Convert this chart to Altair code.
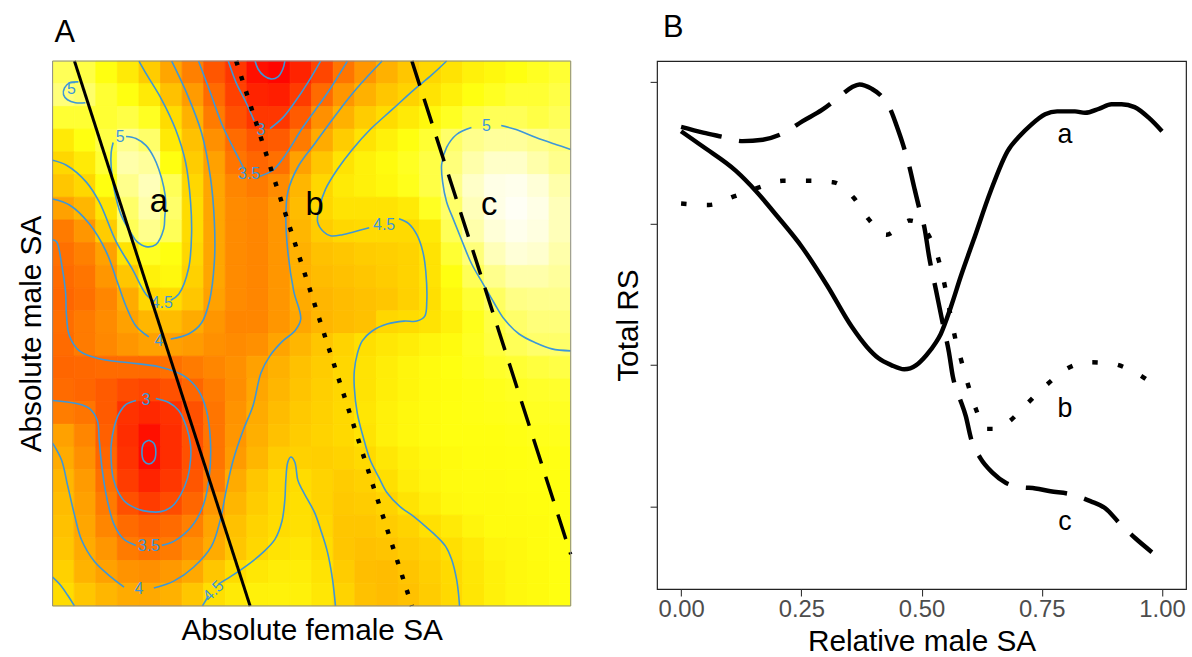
import altair as alt
import pandas as pd

FONT = "Liberation Sans"

# ======================= Panel A: fitness landscape =======================
female_extent = 522.0   # width of trait space (arbitrary units)
male_extent = 549.0     # height of trait space (arbitrary units)

# fitness (total RS) read on a 24 x 24 grid, top row first, left column first
fitness_rows = [
    [4.95, 4.9, 4.75, 4.6, 4.35, 4.0, 3.65, 3.25, 2.95, 2.55, 2.45, 2.75, 3.1, 3.55, 3.85, 4.1, 4.3, 4.45, 4.55, 4.65, 4.7, 4.75, 4.8, 4.85],
    [5.05, 5.0, 4.85, 4.75, 4.6, 4.25, 3.9, 3.45, 3.05, 2.75, 2.7, 3.0, 3.45, 3.85, 4.1, 4.3, 4.42, 4.55, 4.65, 4.75, 4.8, 4.85, 4.85, 4.9],
    [4.85, 4.85, 4.85, 4.9, 4.8, 4.5, 4.1, 3.6, 3.2, 2.95, 2.95, 3.3, 3.8, 4.1, 4.35, 4.5, 4.6, 4.7, 4.8, 4.9, 4.95, 4.95, 4.9, 4.95],
    [4.6, 4.75, 4.9, 5.1, 5.0, 4.6, 4.25, 3.8, 3.45, 3.25, 3.3, 3.6, 4.05, 4.35, 4.55, 4.65, 4.75, 4.85, 5.0, 5.1, 5.15, 5.15, 5.1, 5.05],
    [4.45, 4.6, 4.85, 5.2, 5.15, 4.75, 4.35, 3.95, 3.55, 3.4, 3.5, 3.95, 4.3, 4.55, 4.65, 4.72, 4.8, 4.9, 5.05, 5.2, 5.3, 5.3, 5.2, 5.1],
    [4.3, 4.45, 4.75, 5.1, 5.25, 4.95, 4.45, 4.0, 3.7, 3.6, 3.75, 4.15, 4.45, 4.6, 4.65, 4.7, 4.78, 4.9, 5.1, 5.3, 5.4, 5.42, 5.35, 5.2],
    [3.95, 4.15, 4.55, 5.0, 5.2, 5.0, 4.5, 4.0, 3.75, 3.7, 3.85, 4.2, 4.45, 4.55, 4.55, 4.55, 4.6, 4.8, 5.0, 5.25, 5.4, 5.45, 5.4, 5.25],
    [3.6, 3.85, 4.35, 4.95, 5.1, 4.95, 4.5, 4.0, 3.75, 3.7, 3.85, 4.15, 4.35, 4.45, 4.48, 4.48, 4.48, 4.6, 4.95, 5.2, 5.35, 5.42, 5.38, 5.25],
    [3.5, 3.65, 3.95, 4.55, 4.8, 4.75, 4.45, 4.0, 3.75, 3.7, 3.85, 4.1, 4.25, 4.3, 4.35, 4.38, 4.42, 4.55, 4.85, 5.05, 5.25, 5.35, 5.32, 5.2],
    [3.45, 3.55, 3.85, 4.3, 4.65, 4.7, 4.4, 4.0, 3.75, 3.7, 3.85, 4.1, 4.2, 4.25, 4.3, 4.35, 4.42, 4.55, 4.75, 4.95, 5.1, 5.2, 5.2, 5.15],
    [3.4, 3.5, 3.7, 4.05, 4.45, 4.5, 4.3, 3.95, 3.75, 3.7, 3.85, 4.05, 4.15, 4.2, 4.25, 4.3, 4.4, 4.52, 4.7, 4.85, 4.98, 5.08, 5.1, 5.1],
    [3.48, 3.6, 3.75, 3.95, 4.15, 4.2, 4.05, 3.85, 3.7, 3.7, 3.85, 4.0, 4.15, 4.2, 4.25, 4.45, 4.5, 4.55, 4.65, 4.78, 4.9, 5.0, 5.05, 5.05],
    [3.45, 3.6, 3.72, 3.85, 3.95, 3.95, 3.9, 3.8, 3.75, 3.8, 3.98, 4.15, 4.3, 4.42, 4.52, 4.58, 4.62, 4.68, 4.72, 4.8, 4.88, 4.95, 5.0, 5.0],
    [3.4, 3.42, 3.45, 3.45, 3.45, 3.5, 3.6, 3.7, 3.8, 3.95, 4.1, 4.25, 4.35, 4.45, 4.55, 4.62, 4.68, 4.72, 4.75, 4.78, 4.82, 4.85, 4.88, 4.9],
    [3.45, 3.4, 3.3, 3.15, 3.1, 3.2, 3.4, 3.6, 3.78, 4.0, 4.15, 4.28, 4.38, 4.45, 4.55, 4.63, 4.68, 4.72, 4.74, 4.76, 4.78, 4.8, 4.82, 4.83],
    [3.62, 3.55, 3.3, 2.9, 2.8, 2.9, 3.2, 3.55, 3.82, 4.05, 4.2, 4.32, 4.4, 4.47, 4.57, 4.65, 4.7, 4.73, 4.75, 4.76, 4.77, 4.78, 4.8, 4.8],
    [3.95, 3.7, 3.35, 2.85, 2.55, 2.85, 3.2, 3.55, 3.85, 4.08, 4.25, 4.35, 4.42, 4.47, 4.55, 4.65, 4.7, 4.73, 4.75, 4.75, 4.75, 4.76, 4.78, 4.78],
    [4.05, 3.8, 3.4, 2.9, 2.5, 2.85, 3.2, 3.55, 3.9, 4.15, 4.35, 4.4, 4.38, 4.42, 4.48, 4.58, 4.65, 4.7, 4.72, 4.74, 4.74, 4.75, 4.76, 4.76],
    [4.15, 3.9, 3.5, 3.0, 2.75, 2.95, 3.25, 3.6, 4.05, 4.3, 4.45, 4.5, 4.42, 4.35, 4.4, 4.52, 4.62, 4.68, 4.72, 4.73, 4.73, 4.74, 4.75, 4.75],
    [4.2, 3.95, 3.6, 3.2, 3.0, 3.15, 3.4, 3.85, 4.15, 4.35, 4.48, 4.52, 4.42, 4.32, 4.35, 4.42, 4.55, 4.63, 4.7, 4.72, 4.72, 4.73, 4.74, 4.75],
    [4.25, 4.0, 3.7, 3.45, 3.35, 3.45, 3.65, 3.98, 4.25, 4.42, 4.5, 4.53, 4.45, 4.3, 4.3, 4.35, 4.42, 4.53, 4.6, 4.68, 4.72, 4.72, 4.73, 4.75],
    [4.3, 4.05, 3.85, 3.6, 3.52, 3.6, 3.8, 4.05, 4.3, 4.45, 4.55, 4.58, 4.5, 4.3, 4.25, 4.28, 4.35, 4.42, 4.52, 4.6, 4.68, 4.7, 4.73, 4.75],
    [4.4, 4.12, 3.95, 3.82, 3.8, 3.88, 4.02, 4.3, 4.5, 4.58, 4.62, 4.62, 4.55, 4.35, 4.22, 4.2, 4.28, 4.38, 4.48, 4.58, 4.65, 4.7, 4.72, 4.75],
    [4.5, 4.3, 4.15, 4.05, 4.03, 4.1, 4.3, 4.52, 4.6, 4.65, 4.66, 4.65, 4.58, 4.42, 4.25, 4.2, 4.25, 4.35, 4.47, 4.57, 4.65, 4.7, 4.72, 4.75],
]

heat_stops = [2.4, 3.0, 3.5, 4.0, 4.5, 4.75, 5.1, 5.45]
heat_colors = ["#ff0000", "#ff3c00", "#ff7000", "#ffa600", "#ffdc00", "#ffff10", "#ffff8c", "#fffff5"]

contour_color = "#3d97d8"

# contour lines (x = female SA, y = male SA), split where the labels sit
contour_paths = {
    "c5_a": [(74, 473), (84, 471), (94, 464), (102, 452), (107, 440), (112, 422), (114, 407), (113, 392), (112, 380), (104, 364), (94, 362), (85, 367), (80, 374), (69, 394), (62, 420), (59, 442), (59, 457), (61, 467)],
    "c5_corner": [(26, 528), (17, 527), (12, 522), (11, 515), (15, 510), (23, 507), (33, 507)],
    "c45_a1": [(0, 449), (14, 444), (34, 427), (47, 407), (64, 367), (80, 340), (94, 314), (102, 307)],
    "c45_a2": [(119, 308), (127, 314), (137, 340), (140, 374), (139, 407), (134, 447), (124, 480), (110, 510), (95, 535), (87, 549)],
    "c4_a1": [(0, 410), (17, 404), (37, 385), (54, 357), (65, 327), (74, 302), (84, 282), (97, 271)],
    "c4_a2": [(119, 269), (137, 274), (150, 285), (158, 307), (163, 347), (163, 387), (159, 432), (150, 477), (135, 517), (120, 549)],
    "c4_big1": [(332, 549), (307, 522), (287, 497), (265, 467), (247, 442), (237, 417), (235, 392), (237, 357), (243, 317), (250, 289), (244, 277), (232, 267), (219, 252), (210, 235), (202, 202), (192, 177), (182, 147), (175, 117), (169, 87), (160, 60), (142, 39), (122, 25), (102, 18)],
    "c4_big2": [(72, 19), (59, 29), (42, 45), (29, 67), (22, 92), (15, 122), (9, 147), (0, 164)],
    "c35_top1": [(147, 549), (159, 517), (172, 482), (187, 452), (193, 440)],
    "c35_top2": [(209, 433), (222, 439), (235, 455), (252, 482), (277, 517), (297, 549)],
    "c3_top1": [(177, 549), (185, 527), (195, 507), (203, 489)],
    "c3_top2": [(219, 481), (232, 492), (245, 509), (257, 527), (270, 549)],
    "c25_top": [(204, 549), (207, 541), (213, 534), (220, 531), (227, 533), (232, 541), (234, 549)],
    "c3_low": [(104, 209), (117, 205), (127, 197), (135, 180), (139, 162), (139, 147), (136, 129), (129, 112), (120, 100), (109, 95), (97, 95), (85, 98), (74, 104), (66, 115), (61, 129), (59, 147), (59, 162), (62, 180), (67, 194), (74, 203), (84, 207)],
    "c25_low": [(97, 167), (102, 164), (104, 155), (102, 146), (97, 143), (92, 146), (90, 155), (92, 164), (97, 167)],
    "c35_low1": [(0, 369), (4, 367), (9, 345), (13, 317), (14, 292), (17, 272), (27, 257), (47, 249), (77, 245), (107, 241), (132, 232), (147, 217), (155, 197), (159, 167), (158, 132), (152, 102), (140, 80), (122, 65), (110, 61)],
    "c35_low2": [(84, 61), (72, 67), (62, 82), (55, 107), (50, 137), (47, 167), (45, 187), (37, 199), (24, 204), (0, 207)],
    "c45_b1": [(397, 549), (382, 535), (364, 520), (342, 500), (320, 480), (302, 460), (287, 440), (275, 420), (269, 402), (267, 387), (273, 377), (280, 373), (292, 374), (304, 377), (319, 381)],
    "c45_b2": [(349, 390), (359, 385), (367, 374), (373, 357), (376, 337), (377, 307), (375, 292), (367, 287), (354, 287), (337, 284), (322, 277), (312, 267), (307, 254), (304, 237), (304, 220), (307, 194), (313, 170), (320, 147), (329, 129), (337, 114), (350, 100), (364, 90), (377, 79), (387, 70), (396, 60), (402, 47), (407, 27), (409, 12), (410, 0)],
    "c45_spike1": [(151, 0), (157, 10)],
    "c45_spike2": [(167, 22), (180, 30), (200, 44), (212, 54), (224, 67), (231, 85), (234, 107), (235, 127), (237, 145), (240, 150), (244, 145), (247, 127), (250, 120), (257, 107), (264, 94), (270, 77), (277, 54), (282, 27), (285, 0)],
    "c45_corner": [(0, 29), (7, 22), (15, 11), (22, 0)],
    "c5_c1": [(522, 460), (507, 465), (487, 472), (467, 480), (452, 484)],
    "c5_c2": [(422, 482), (407, 475), (397, 462), (392, 445), (393, 427), (397, 407), (404, 389), (412, 369), (422, 345), (434, 324), (445, 305), (455, 289), (470, 274), (487, 265), (503, 259), (522, 257)],
}

clabel_text = ["5", "5", "4.5", "4", "3.5", "3", "4.5", "5", "3", "3.5", "4", "4.5"]
clabel_x = [19, 68, 110, 107, 198, 210, 334, 437, 94, 97, 87, 162]
clabel_y = [521, 472, 305, 267, 435, 479, 384, 484, 207, 60, 17, 15]
clabel_angle = [0, 0, 0, 0, 0, 0, 0, 0, 0, 0, 0, 315]

# the three transects a (solid), b (dotted), c (dashed)
transect_a_x, transect_a_y = [22, 199], [549, 0]
transect_b_x, transect_b_y = [185, 362], [549, 0]
transect_c_x, transect_c_y = [362, 522], [549, 52]

letter_text = ["a", "b", "c"]
letter_x = [107, 264, 440]
letter_y = [407, 404, 404]

# ======================= Panel B: RS along transects =======================
a_x = [0.0, 0.046, 0.114, 0.155, 0.200, 0.252, 0.304, 0.355, 0.386, 0.410, 0.437, 0.464, 0.489, 0.510, 0.530, 0.540, 0.561, 0.582, 0.608, 0.644, 0.679, 0.705, 0.726, 0.757, 0.782, 0.819, 0.840, 0.870, 0.895, 0.916, 0.943, 0.974, 1.0]
a_y = [3.65, 3.54, 3.37, 3.23, 3.05, 2.83, 2.56, 2.27, 2.13, 2.05, 2.00, 1.97, 2.00, 2.07, 2.16, 2.22, 2.41, 2.63, 2.88, 3.23, 3.51, 3.62, 3.69, 3.77, 3.79, 3.79, 3.78, 3.81, 3.84, 3.84, 3.82, 3.74, 3.65]

b_x = [0.0, 0.058, 0.110, 0.159, 0.211, 0.264, 0.316, 0.359, 0.390, 0.427, 0.452, 0.475, 0.495, 0.514, 0.534, 0.549, 0.561, 0.572, 0.582, 0.596, 0.613, 0.633, 0.654, 0.681, 0.720, 0.760, 0.800, 0.846, 0.896, 0.943, 0.984]
b_y = [3.14, 3.13, 3.19, 3.25, 3.30, 3.30, 3.29, 3.18, 3.03, 2.92, 2.97, 3.02, 3.00, 2.92, 2.76, 2.55, 2.34, 2.16, 2.04, 1.87, 1.69, 1.55, 1.55, 1.60, 1.73, 1.86, 1.97, 2.02, 2.01, 1.95, 1.86]

c_x = [0.0, 0.046, 0.087, 0.128, 0.170, 0.215, 0.252, 0.293, 0.328, 0.355, 0.371, 0.396, 0.421, 0.437, 0.448, 0.462, 0.474, 0.485, 0.495, 0.506, 0.516, 0.530, 0.545, 0.557, 0.565, 0.578, 0.592, 0.603, 0.623, 0.648, 0.675, 0.706, 0.737, 0.768, 0.809, 0.851, 0.882, 0.913, 0.944, 0.979]
c_y = [3.68, 3.64, 3.61, 3.58, 3.59, 3.64, 3.72, 3.80, 3.89, 3.96, 3.98, 3.95, 3.88, 3.79, 3.69, 3.55, 3.41, 3.25, 3.11, 2.97, 2.76, 2.53, 2.28, 2.09, 1.92, 1.78, 1.64, 1.48, 1.34, 1.24, 1.17, 1.14, 1.13, 1.11, 1.09, 1.04, 0.99, 0.88, 0.78, 0.68]

rs_ticks = [1, 2, 3, 4]
sa_ticks = [0.0, 0.25, 0.5, 0.75, 1.0]
curve_label_text = ["a", "b", "c"]
curve_label_x = [0.798, 0.798, 0.798]
curve_label_y = [3.62, 1.69, 0.89]

# ----------------------------- build tables -----------------------------
n_rows, n_cols = len(fitness_rows), len(fitness_rows[0])
cw, ch = female_extent / n_cols, male_extent / n_rows
heat_records = []
for j, row in enumerate(fitness_rows):
    for i, v in enumerate(row):
        heat_records.append({"x0": i * cw, "x1": (i + 1) * cw,
                             "y0": male_extent - (j + 1) * ch, "y1": male_extent - j * ch, "v": v})
heat_df = pd.DataFrame(heat_records)

cont_records = []
for name, pts in contour_paths.items():
    for k, (x, y) in enumerate(pts):
        cont_records.append({"path": name, "ord": k, "x": x, "y": y})
cont_df = pd.DataFrame(cont_records)

clabel_df = pd.DataFrame({"t": clabel_text, "x": clabel_x, "y": clabel_y, "ang": clabel_angle})
letters_df = pd.DataFrame({"t": letter_text, "x": letter_x, "y": letter_y})

TITLE_SIZE = 30

xsA = alt.Scale(domain=[0, female_extent], nice=False, zero=False)
ysA = alt.Scale(domain=[0, male_extent], nice=False, zero=False)
axA_x = alt.Axis(title="Absolute female SA", labels=False, ticks=False, domain=False, grid=False,
                 titleFont=FONT, titleFontSize=TITLE_SIZE, titleFontWeight="normal", titleColor="black", titlePadding=10)
axA_y = alt.Axis(title="Absolute male SA", labels=False, ticks=False, domain=False, grid=False,
                 titleFont=FONT, titleFontSize=TITLE_SIZE, titleFontWeight="normal", titleColor="black", titlePadding=6)


def XA(f):
    return alt.X(f, type="quantitative", scale=xsA, axis=axA_x)


def YA(f):
    return alt.Y(f, type="quantitative", scale=ysA, axis=axA_y)


heat_scale = alt.Scale(domain=heat_stops, range=heat_colors, interpolate="rgb")
heat = alt.Chart(heat_df).mark_rect(strokeWidth=0.8).encode(
    x=XA("x0"), x2="x1", y=YA("y0"), y2="y1",
    color=alt.Color("v:Q", scale=heat_scale, legend=None),
    stroke=alt.Stroke("v:Q", scale=heat_scale, legend=None),
)

contours = alt.Chart(cont_df).mark_line(color=contour_color, strokeWidth=1.6, interpolate="catmull-rom").encode(
    x=XA("x"), y=YA("y"), detail="path:N", order="ord:Q")

clabels = alt.Chart(clabel_df).mark_text(color=contour_color, font=FONT, fontSize=16, baseline="middle").encode(
    x=XA("x"), y=YA("y"), text="t:N", angle=alt.Angle("ang:Q", scale=None))


def transect(xs, ys, dash, width):
    df = pd.DataFrame({"x": xs, "y": ys})
    kw = dict(color="black", strokeWidth=width, strokeCap="butt")
    if dash:
        kw["strokeDash"] = dash
    return alt.Chart(df).mark_line(**kw).encode(x=XA("x"), y=YA("y"))


tr_a = transect(transect_a_x, transect_a_y, None, 3)
tr_b = transect(transect_b_x, transect_b_y, [4.5, 11.5], 4.5)
tr_c = transect(transect_c_x, transect_c_y, [26, 14], 3.5)

letters = alt.Chart(letters_df).mark_text(font=FONT, fontSize=33, color="black", baseline="middle").encode(
    x=XA("x"), y=YA("y"), text="t:N")

frameA = alt.Chart(pd.DataFrame({"k": [0]})).mark_rect(filled=False, stroke="#8a8a8a", strokeWidth=1).encode(
    x=alt.value(0), x2=alt.value(female_extent), y=alt.value(0), y2=alt.value(male_extent))

tagA = alt.Chart(pd.DataFrame({"t": ["A"]})).mark_text(font=FONT, fontSize=31, align="left", baseline="middle").encode(
    x=alt.value(2), y=alt.value(-28), text="t:N")
spacerA = alt.Chart(pd.DataFrame({"t": ["A"]})).mark_text(font=FONT, fontSize=31, align="left", baseline="middle", opacity=0).encode(
    x=alt.value(2), y=alt.value(-39), text="t:N")

panelA = alt.layer(heat, contours, clabels, tr_a, tr_b, tr_c, letters, frameA, tagA, spacerA).properties(
    width=522, height=549, view=alt.ViewBackground(stroke="transparent"))

# ----------------------------- panel B -----------------------------
xsB = alt.Scale(domain=[-0.05, 1.05], nice=False, zero=False)
ysB = alt.Scale(domain=[0.42, 4.145], nice=False, zero=False)
axB_x = alt.Axis(title="Relative male SA", values=sa_ticks, format=".2f", grid=False, domain=False,
                 tickColor="#333333", tickSize=7, tickWidth=1.1, labelColor="#4d4d4d", labelFont=FONT,
                 labelFontSize=24, labelPadding=2, titleFont=FONT, titleFontSize=TITLE_SIZE, titleFontWeight="normal",
                 titleColor="black", titlePadding=5)
axB_y = alt.Axis(title="Total RS", values=rs_ticks, labels=False, grid=False, domain=False,
                 tickColor="#333333", tickSize=7, tickWidth=1.1, titleFont=FONT, titleFontSize=TITLE_SIZE,
                 titleFontWeight="normal", titleColor="black", titlePadding=6)


def XB(f):
    return alt.X(f, type="quantitative", scale=xsB, axis=axB_x)


def YB(f):
    return alt.Y(f, type="quantitative", scale=ysB, axis=axB_y)


def curve(xs, ys, dash):
    df = pd.DataFrame({"x": xs, "y": ys})
    kw = dict(color="black", strokeWidth=4.5, strokeCap="butt", interpolate="monotone")
    if dash:
        kw["strokeDash"] = dash
    return alt.Chart(df).mark_line(**kw).encode(x=XB("x"), y=YB("y"))


cur_a = curve(a_x, a_y, None)
cur_b = curve(b_x, b_y, [5.5, 20.5])
cur_c = curve(c_x, c_y, [42, 18])

curve_labels = alt.Chart(pd.DataFrame({"t": curve_label_text, "x": curve_label_x, "y": curve_label_y})).mark_text(
    font=FONT, fontSize=27, color="black", baseline="middle").encode(x=XB("x"), y=YB("y"), text="t:N")

tagB = alt.Chart(pd.DataFrame({"t": ["B"]})).mark_text(font=FONT, fontSize=31, align="left", baseline="middle").encode(
    x=alt.value(6), y=alt.value(-33), text="t:N")

panelB = alt.layer(cur_a, cur_b, cur_c, curve_labels, tagB).properties(
    width=533, height=532, view=alt.ViewBackground(stroke="#222222", strokeWidth=1.2))

chart = alt.hconcat(panelA, panelB, spacing=34).properties(
    padding={"left": 16, "top": 3, "right": 5, "bottom": 5}, background="white")

chart.save("out.html", embed_options={"renderer": "svg", "actions": False})
